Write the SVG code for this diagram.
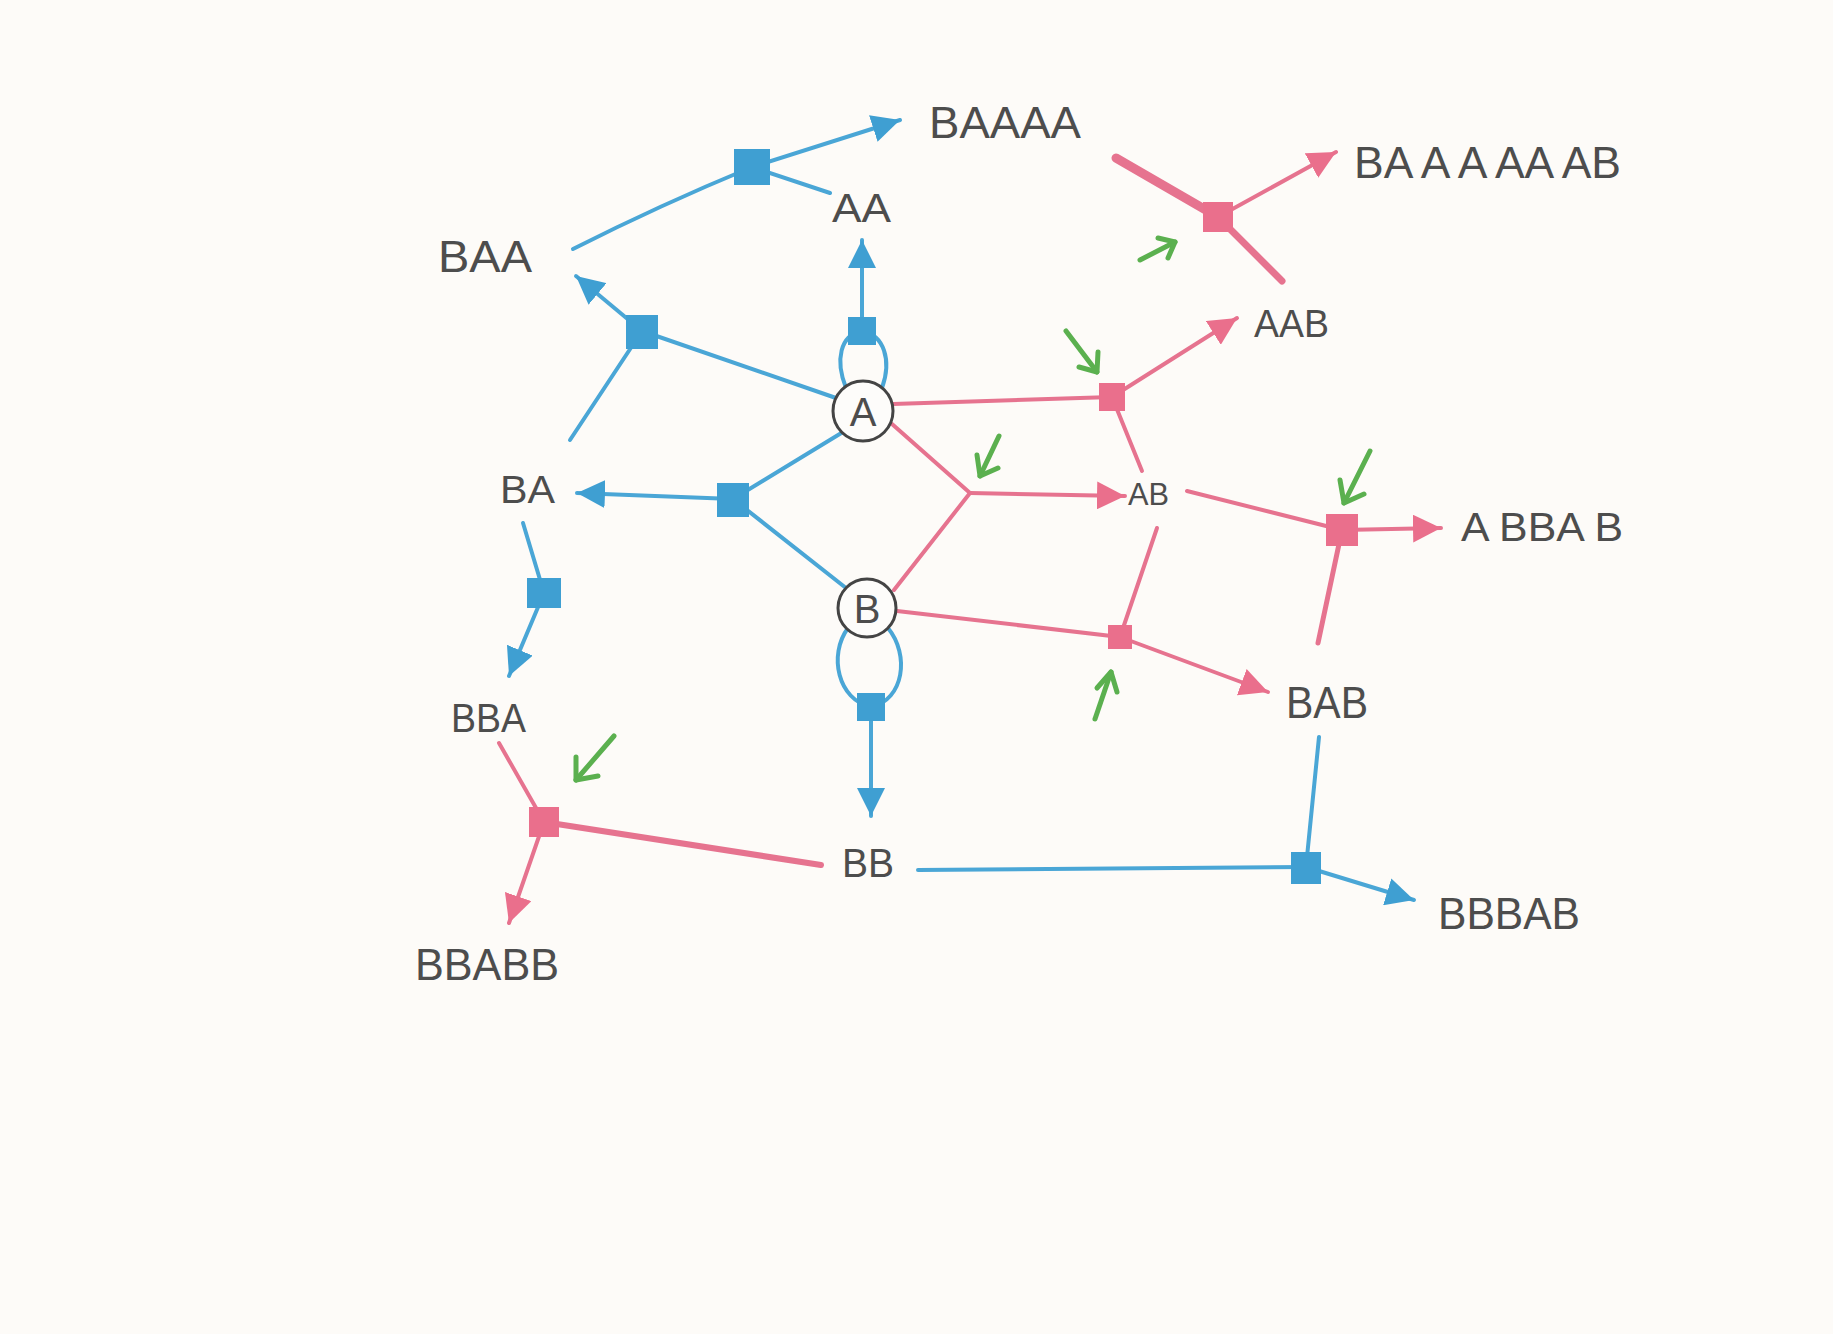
<svg xmlns="http://www.w3.org/2000/svg" width="1833" height="1334" viewBox="0 0 1833 1334">
<defs>
<style>
.b{stroke:#4aa6d6;stroke-width:4;fill:none;stroke-linecap:round}
.r{stroke:#e6738f;stroke-width:4;fill:none;stroke-linecap:round}
.g{stroke:#5bb04f;stroke-width:5;fill:none;stroke-linecap:round;stroke-linejoin:round}
.bs{fill:#3f9fd2}
.rs{fill:#ea6f8c}
.lbl{font-family:"Liberation Sans",Arial,sans-serif;fill:#4d4d4d;font-weight:normal}
.node circle{fill:#fdfcfa;stroke:#444;stroke-width:3}
</style>
<marker id="ab" viewBox="0 0 10 10" refX="10" refY="5" markerUnits="userSpaceOnUse" markerWidth="28" markerHeight="28" orient="auto"><path d="M0,0 L10,5 L0,10 z" fill="#3f9fd2"/></marker>
<marker id="ar" viewBox="0 0 10 10" refX="10" refY="5" markerUnits="userSpaceOnUse" markerWidth="28" markerHeight="28" orient="auto"><path d="M0,0 L10,5 L0,10 z" fill="#ea6f8c"/></marker>
</defs>
<rect width="1833" height="1334" fill="#fdfbf8"/>

<g id="connectors">
<!-- blue -->
<path class="b" d="M573,249 Q660,205 752,167"/>
<line class="b" x1="830" y1="193" x2="752" y2="167"/>
<line class="b" x1="752" y1="167" x2="900" y2="120" marker-end="url(#ab)"/>
<path class="b" d="M846,388 C835,360 840,335 862,331 C884,335 892,360 882,388"/>
<line class="b" x1="862" y1="331" x2="862" y2="240" marker-end="url(#ab)"/>
<line class="b" x1="836" y1="398" x2="642" y2="331"/>
<line class="b" x1="570" y1="440" x2="642" y2="331"/>
<line class="b" x1="642" y1="331" x2="576" y2="276" marker-end="url(#ab)"/>
<line class="b" x1="843" y1="432" x2="733" y2="499"/>
<line class="b" x1="846" y1="588" x2="733" y2="499"/>
<line class="b" x1="733" y1="499" x2="577" y2="493" marker-end="url(#ab)"/>
<line class="b" x1="523" y1="523" x2="544" y2="593"/>
<line class="b" x1="544" y1="593" x2="509" y2="676" marker-end="url(#ab)"/>
<path class="b" d="M848,628 C828,655 838,700 871,707 C904,700 910,655 888,628"/>
<line class="b" x1="871" y1="707" x2="871" y2="816" marker-end="url(#ab)"/>
<line class="b" x1="918" y1="870" x2="1306" y2="867"/>
<line class="b" x1="1319" y1="737" x2="1306" y2="867"/>
<line class="b" x1="1306" y1="867" x2="1414" y2="900" marker-end="url(#ab)"/>
<!-- red -->
<line class="r" style="stroke-width:9" x1="1116" y1="158" x2="1218" y2="217"/>
<line class="r" style="stroke-width:7" x1="1282" y1="281" x2="1218" y2="217"/>
<line class="r" x1="1218" y1="217" x2="1336" y2="152" marker-end="url(#ar)"/>
<line class="r" x1="893" y1="404" x2="1112" y2="397"/>
<line class="r" x1="1142" y1="471" x2="1112" y2="397"/>
<line class="r" x1="1112" y1="397" x2="1237" y2="318" marker-end="url(#ar)"/>
<line class="r" x1="892" y1="424" x2="970" y2="493"/>
<line class="r" x1="894" y1="590" x2="970" y2="493"/>
<line class="r" x1="970" y1="493" x2="1125" y2="496" marker-end="url(#ar)"/>
<line class="r" x1="1187" y1="491" x2="1342" y2="530"/>
<line class="r" style="stroke-width:5" x1="1318" y1="643" x2="1342" y2="530"/>
<line class="r" x1="1342" y1="530" x2="1441" y2="528" marker-end="url(#ar)"/>
<line class="r" x1="897" y1="611" x2="1120" y2="637"/>
<line class="r" x1="1157" y1="528" x2="1120" y2="637"/>
<line class="r" x1="1120" y1="637" x2="1268" y2="692" marker-end="url(#ar)"/>
<line class="r" x1="499" y1="743" x2="544" y2="822"/>
<line class="r" style="stroke-width:6" x1="821" y1="865" x2="544" y2="822"/>
<line class="r" x1="544" y1="822" x2="509" y2="923" marker-end="url(#ar)"/>
<!-- green catalyst arrows -->
<g class="g">
<line x1="1140" y1="260" x2="1175" y2="242"/><polyline points="1158,238 1175,242 1168,258"/>
<line x1="1066" y1="331" x2="1097" y2="372"/><polyline points="1098,352 1097,372 1079,367"/>
<line x1="999" y1="436" x2="980" y2="476"/><polyline points="977,455 980,476 998,468"/>
<line x1="1370" y1="451" x2="1344" y2="503"/><polyline points="1340,480 1344,503 1364,494"/>
<line x1="1095" y1="719" x2="1111" y2="672"/><polyline points="1097,688 1111,672 1117,692"/>
<line x1="614" y1="736" x2="576" y2="780"/><polyline points="576,757 576,780 598,776"/>
</g>
</g>

<g id="node-A" class="node"><circle cx="863" cy="411" r="30"/><text class="lbl" x="863" y="426" font-size="40" text-anchor="middle">A</text></g>
<g id="node-B" class="node"><circle cx="867" cy="608" r="29"/><text class="lbl" x="867" y="623" font-size="40" text-anchor="middle">B</text></g>

<g id="reactions-blue">
<rect id="s1" class="bs" x="734" y="149" width="36" height="36"/>
<rect id="s2" class="bs" x="848" y="317" width="28" height="28"/>
<rect id="s3" class="bs" x="626" y="315" width="32" height="34"/>
<rect id="s4" class="bs" x="717" y="483" width="32" height="34"/>
<rect id="s5" class="bs" x="527" y="578" width="34" height="30"/>
<rect id="s6" class="bs" x="857" y="693" width="28" height="28"/>
<rect id="s7" class="bs" x="1291" y="852" width="30" height="32"/>
</g>
<g id="reactions-red">
<rect id="r1" class="rs" x="1203" y="202" width="30" height="30"/>
<rect id="r2" class="rs" x="1099" y="383" width="26" height="28"/>
<rect id="r3" class="rs" x="1326" y="514" width="32" height="32"/>
<rect id="r4" class="rs" x="1108" y="625" width="24" height="24"/>
<rect id="r5" class="rs" x="529" y="807" width="30" height="30"/>
</g>

<g id="labels">
<g id="n-BAAAA"><text class="lbl" x="929" y="138" font-size="44" textLength="152" lengthAdjust="spacingAndGlyphs">BAAAA</text></g>
<g id="n-AA"><text class="lbl" x="832" y="222" font-size="40" textLength="59" lengthAdjust="spacingAndGlyphs">AA</text></g>
<g id="n-BAA"><text class="lbl" x="438" y="272" font-size="44" textLength="94" lengthAdjust="spacingAndGlyphs">BAA</text></g>
<g id="n-BAAAAAAB"><text class="lbl" x="1354" y="178" font-size="44" textLength="267" lengthAdjust="spacingAndGlyphs">BA A A AA AB</text></g>
<g id="n-AAB"><text class="lbl" x="1254" y="337" font-size="38" textLength="75" lengthAdjust="spacingAndGlyphs">AAB</text></g>
<g id="n-AB"><text class="lbl" x="1128" y="505" font-size="32" textLength="41" lengthAdjust="spacingAndGlyphs">AB</text></g>
<g id="n-BA"><text class="lbl" x="500" y="503" font-size="38" textLength="55" lengthAdjust="spacingAndGlyphs">BA</text></g>
<g id="n-ABBAB"><text class="lbl" x="1461" y="541" font-size="40" textLength="162" lengthAdjust="spacingAndGlyphs">A BBA B</text></g>
<g id="n-BAB"><text class="lbl" x="1286" y="718" font-size="44" textLength="82" lengthAdjust="spacingAndGlyphs">BAB</text></g>
<g id="n-BBA"><text class="lbl" x="451" y="732" font-size="40" textLength="75" lengthAdjust="spacingAndGlyphs">BBA</text></g>
<g id="n-BB"><text class="lbl" x="842" y="877" font-size="40" textLength="52" lengthAdjust="spacingAndGlyphs">BB</text></g>
<g id="n-BBBAB"><text class="lbl" x="1438" y="929" font-size="44" textLength="142" lengthAdjust="spacingAndGlyphs">BBBAB</text></g>
<g id="n-BBABB"><text class="lbl" x="415" y="980" font-size="44" textLength="144" lengthAdjust="spacingAndGlyphs">BBABB</text></g>
</g>
</svg>
